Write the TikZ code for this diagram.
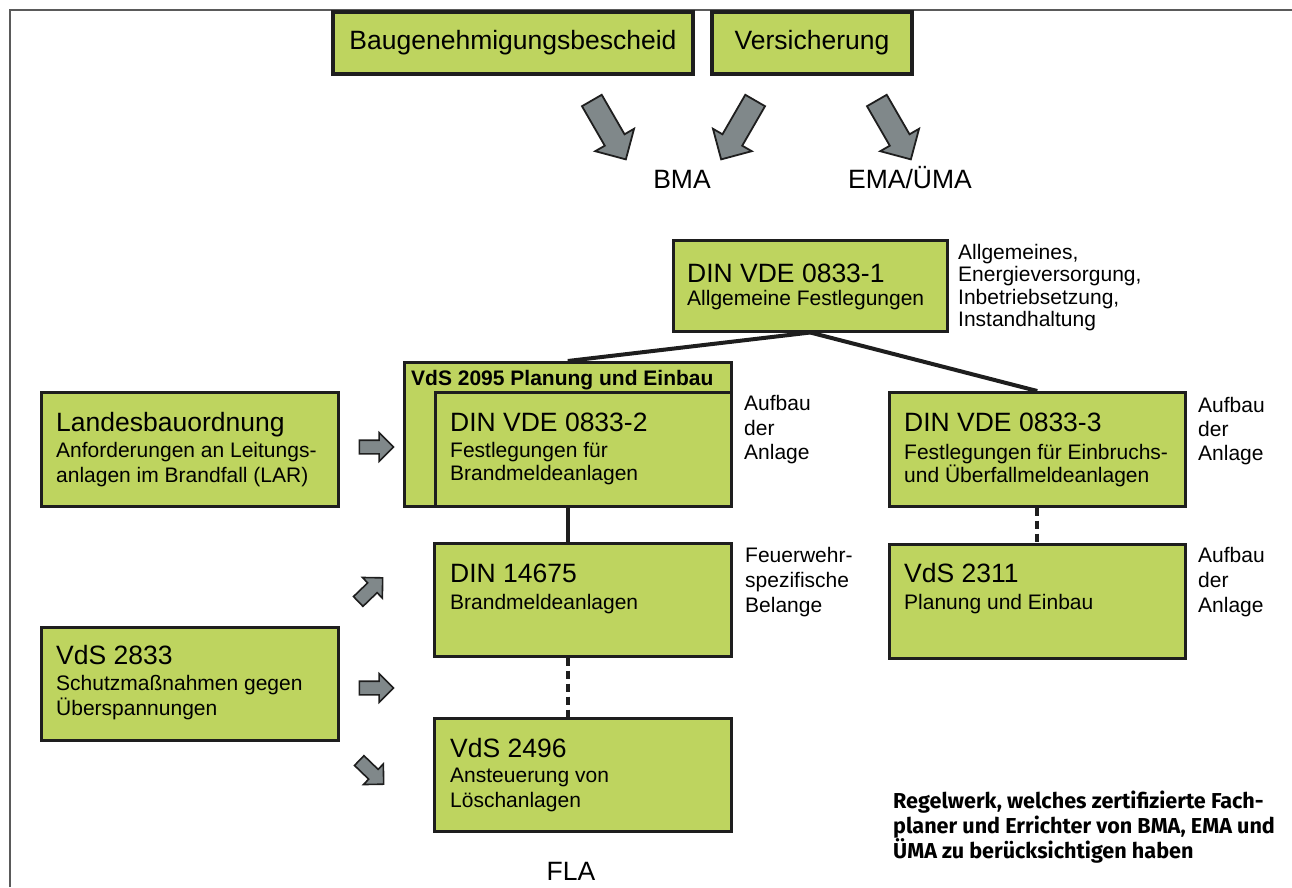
\documentclass[tikz,border=0pt]{standalone}
\usepackage{fontspec}
\setmainfont{Liberation Sans}
\newfontfamily\firafont{Fira Sans}
\usetikzlibrary{shapes.arrows}
\definecolor{boxgreen}{RGB}{190,212,95}
\definecolor{boxline}{RGB}{30,30,30}
\definecolor{arrowgray}{RGB}{128,136,138}
\definecolor{framegray}{RGB}{90,90,90}
\tikzset{
  greenbox/.style={draw=boxline, fill=boxgreen, line width=2.5pt, rectangle, inner sep=0pt, anchor=north west},
  topbox/.style={draw=boxline, fill=boxgreen, line width=4.5pt, rectangle, inner sep=0pt, font=\fontsize{26.5}{30}\selectfont},
  lbl/.style={anchor=base west, inner sep=0pt},
  ttl/.style={lbl, font=\fontsize{26.5}{30}\selectfont},
  sub/.style={lbl, font=\fontsize{21}{24}\selectfont},
  hdr/.style={lbl, font=\fontsize{21}{24}\selectfont\bfseries},
  outlbl/.style={anchor=base, inner sep=0pt, font=\fontsize{26.5}{30}\selectfont},
  note/.style={lbl, font=\firafont\bfseries\fontsize{21.6}{25}\selectfont},
  bigarrow/.style={single arrow, draw=boxline, fill=arrowgray, line width=1.8pt,
     inner xsep=0pt, inner ysep=10.5pt, single arrow head extend=11pt, minimum height=68pt},
  smallarrow/.style={single arrow, draw=boxline, fill=arrowgray, line width=1.6pt,
     inner xsep=0pt, inner ysep=6pt, single arrow head extend=7.5pt, minimum height=34pt},
  link/.style={line width=4pt, draw=boxline},
  dashlink/.style={line width=4pt, draw=boxline, dash pattern=on 8pt off 5pt}
}
\begin{document}
\begin{tikzpicture}[x=1pt,y=-1pt]
\useasboundingbox (0,0) rectangle (1292,887);
% frame
\coordinate (fTL) at (10,10);
\coordinate (fTR) at (1292,10);
\coordinate (fBL) at (10,887);
\draw[framegray, line width=2.2pt] (fBL) -- (fTL) -- (fTR);

% top boxes
\node[topbox, minimum width=360pt, minimum height=62pt] (bau) at (513,43) {Baugenehmigungsbescheid};
\node[topbox, minimum width=200pt, minimum height=62pt] (vers) at (812,43) {Versicherung};

% top block arrows
\node[bigarrow, rotate=-60] (a1) at (606,125) {};
\node[bigarrow, rotate=-120] (a2) at (741,125) {};
\node[bigarrow, rotate=-60] (a3) at (891,125) {};
\node[outlbl] (bma) at (682,188) {BMA};
\node[outlbl] (ema) at (910,188) {EMA/ÜMA};

% DIN VDE 0833-1
\node[greenbox, minimum width=274pt, minimum height=91pt] (d1) at (672,239) {};
\node[ttl] (d1t) at (687,282) {DIN VDE 0833-1};
\node[sub] (d1s) at (687,305.5) {Allgemeine Festlegungen};
\node[sub] (s1a) at (958,259) {Allgemeines,};
\node[sub] (s1b) at (958,281.5) {Energieversorgung,};
\node[sub] (s1c) at (958,304) {Inbetriebsetzung,};
\node[sub] (s1d) at (958,326.5) {Instandhaltung};

% VdS 2095 / DIN VDE 0833-2
\node[greenbox, minimum width=327pt, minimum height=144pt] (v2095) at (403,361) {};
\node[greenbox, minimum width=296pt, minimum height=114pt] (d2) at (434,391) {};
\node[hdr] (v2095t) at (411,385.5) {VdS 2095 Planung und Einbau};
\node[ttl] (d2t) at (450,431) {DIN VDE 0833-2};
\node[sub] (d2s1) at (450,457.5) {Festlegungen für};
\node[sub] (d2s2) at (450,480.5) {Brandmeldeanlagen};
\node[sub] (s2a) at (744,410.5) {Aufbau};
\node[sub] (s2b) at (744,435) {der};
\node[sub] (s2c) at (744,459.5) {Anlage};

% DIN VDE 0833-3
\node[greenbox, minimum width=296pt, minimum height=114pt] (d3) at (888,391) {};
\node[ttl] (d3t) at (904,431) {DIN VDE 0833-3};
\node[sub] (d3s1) at (904,459.5) {Festlegungen für Einbruchs-};
\node[sub] (d3s2) at (904,482.5) {und Überfallmeldeanlagen};
\node[sub] (s3a) at (1198,412) {Aufbau};
\node[sub] (s3b) at (1198,436) {der};
\node[sub] (s3c) at (1198,460) {Anlage};

% VdS 2311
\node[greenbox, minimum width=296pt, minimum height=114pt] (v2311) at (888,543) {};
\node[ttl] (v2311t) at (904,582) {VdS 2311};
\node[sub] (v2311s) at (904,609.5) {Planung und Einbau};
\node[sub] (s4a) at (1198,562.5) {Aufbau};
\node[sub] (s4b) at (1198,587.5) {der};
\node[sub] (s4c) at (1198,612.5) {Anlage};

% DIN 14675
\node[greenbox, minimum width=297pt, minimum height=113pt] (n14675) at (433,542) {};
\node[ttl] (n14675t) at (450,582) {DIN 14675};
\node[sub] (n14675s) at (450,609.5) {Brandmeldeanlagen};
\node[sub] (s5a) at (745,562.5) {Feuerwehr-};
\node[sub] (s5b) at (745,587.5) {spezifische};
\node[sub] (s5c) at (745,612.5) {Belange};

% VdS 2496
\node[greenbox, minimum width=297pt, minimum height=113pt] (v2496) at (433,717) {};
\node[ttl] (v2496t) at (450,757) {VdS 2496};
\node[sub] (v2496s1) at (450,782.5) {Ansteuerung von};
\node[sub] (v2496s2) at (450,807.5) {Löschanlagen};
\node[outlbl] (fla) at (571,880) {FLA};

% Landesbauordnung
\node[greenbox, minimum width=297pt, minimum height=114pt] (lbo) at (40,391) {};
\node[ttl] (lbot) at (56,431) {Landesbauordnung};
\node[sub] (lbos1) at (56,457.5) {Anforderungen an Leitungs-};
\node[sub] (lbos2) at (56,482.5) {anlagen im Brandfall (LAR)};

% VdS 2833
\node[greenbox, minimum width=297pt, minimum height=113pt] (v2833) at (40,626) {};
\node[ttl] (v2833t) at (56,664.5) {VdS 2833};
\node[sub] (v2833s1) at (56,690.5) {Schutzmaßnahmen gegen};
\node[sub] (v2833s2) at (56,715.5) {Überspannungen};

% small block arrows
\node[smallarrow] (sa1) at (373,447) {};
\node[smallarrow, rotate=44] (sa2) at (368,592) {};
\node[smallarrow] (sa3) at (373,688) {};
\node[smallarrow, rotate=-44] (sa4) at (369,770) {};

% connectors
\draw[link] (d1.south) -- (v2095.north);
\draw[link] (d1.south) -- (d3.north);
\draw[link] (v2095.south) -- (v2095.south |- n14675.north);
\draw[dashlink] (v2095.south |- n14675.south) -- (v2095.south |- v2496.north);
\draw[dashlink] (d3.south) -- (v2311.north);

% note
\node[note] (note1) at (893,808) {Regelwerk, welches zertifizierte Fach-};
\node[note] (note2) at (893,833) {planer und Errichter von BMA, EMA und};
\node[note] (note3) at (893,858) {ÜMA zu berücksichtigen haben};
\end{tikzpicture}
\end{document}
